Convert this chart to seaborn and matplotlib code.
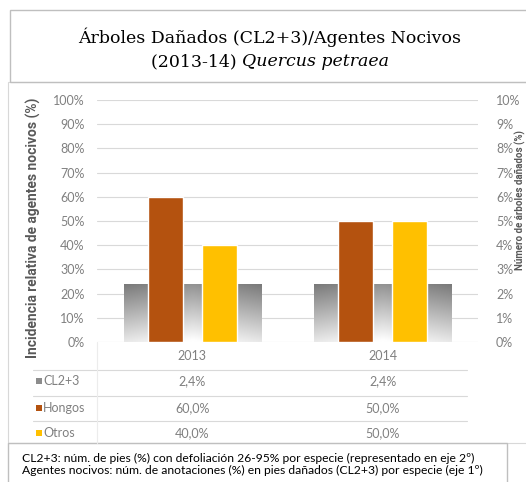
import matplotlib
matplotlib.use("Agg")
import matplotlib.pyplot as plt
import matplotlib.transforms as mtransforms
from matplotlib.patches import Rectangle
from matplotlib.lines import Line2D
import numpy as np
import pandas as pd
import seaborn as sns

# datos
YEARS = ["2013", "2014"]
CL23 = [2.4, 2.4]          # eje 2º (0-10 %)
HONGOS = [60.0, 50.0]      # eje 1º (0-100 %)
OTROS = [40.0, 50.0]
SERIES = ["Hongos", "Otros"]
ROW_LABELS = ["CL2+3", "Hongos", "Otros"]
LEFT_TICKS = list(range(0, 101, 10))
RIGHT_TICKS = list(range(0, 11, 1))

BROWN = "#b4520f"
YELLOW = "#ffc000"
GRAY = "#8c8c8c"
TICK_COLOR = "#808080"
GRID_COLOR = "#d9d9d9"

W, H = 526, 482


def fx(px):
    return px / W


def fy(py):
    return 1 - py / H


def pct(v):
    return f"{v:.1f}%".replace(".", ",")


sns.set_theme(style="white")
plt.rcParams["font.family"] = ["Lato", "DejaVu Sans"]

fig = plt.figure(figsize=(W / 100, H / 100), dpi=100)
fig.patch.set_facecolor("white")

left, right, top, bottom = 97, 478, 100, 342
ax = fig.add_axes([fx(left), fy(bottom), fx(right) - fx(left), fy(top) - fy(bottom)])
ax_sec = ax.twinx()
ax.set_zorder(ax_sec.get_zorder() + 1)
ax.patch.set_visible(False)

# barras grises CL2+3 (eje secundario) con degradado
sns.barplot(x=YEARS, y=CL23, ax=ax_sec, color=GRAY, width=0.72, saturation=1)
t = np.linspace(0, 1, 60)[:, None]
s = np.abs(np.linspace(-1, 1, 60))[None, :]
shade = np.clip(0.52 + 0.44 * t - 0.10 * s + 0.05, 0, 1)
grad = np.dstack([shade, shade, shade])
for p in list(ax_sec.patches):
    x0, w, h = p.get_x(), p.get_width(), p.get_height()
    p.set_facecolor("none")
    p.set_edgecolor("none")
    im = ax_sec.imshow(grad, extent=[x0, x0 + w, 0, h], aspect="auto",
                       origin="upper", zorder=2, interpolation="bilinear")
    im.set_clip_path(p)

ax_sec.set_ylim(0, 10)
ax_sec.set_xlim(-0.5, 1.5)
ax_sec.set_yticks(RIGHT_TICKS)
ax_sec.set_yticklabels([f"{v}%" for v in RIGHT_TICKS])
ax_sec.grid(axis="y", color=GRID_COLOR, linewidth=0.8)
ax_sec.set_axisbelow(True)
ax_sec.tick_params(axis="y", length=0, pad=13, labelsize=9, labelcolor=TICK_COLOR)
ax_sec.set_ylabel("")

# barras Hongos / Otros (eje principal)
df = pd.DataFrame({
    "year": YEARS * 2,
    "serie": [SERIES[0]] * 2 + [SERIES[1]] * 2,
    "valor": HONGOS + OTROS,
})
sns.barplot(data=df, x="year", y="valor", hue="serie", palette=[BROWN, YELLOW],
            width=0.567, gap=0.35, saturation=1, ax=ax, legend=False)
ax.set_ylim(0, 100)
ax.set_xlim(-0.5, 1.5)
ax.set_yticks(LEFT_TICKS)
ax.set_yticklabels([f"{v}%" for v in LEFT_TICKS])
ax.tick_params(axis="y", length=0, pad=9, labelsize=9, labelcolor=TICK_COLOR)
ax.tick_params(axis="x", length=0, pad=6, labelsize=9, labelcolor=TICK_COLOR)
ax.set_xlabel("")
ax.set_ylabel("")
for a in (ax, ax_sec):
    for sp in a.spines.values():
        sp.set_visible(False)

# titulos de ejes
fig.text(fx(33), fy(228), "Incidencia relativa de agentes nocivos (%)", rotation=90,
         ha="center", va="center", fontsize=9.9, fontweight="bold", color="#595959",
         family=["Roboto", "DejaVu Sans"])
fig.text(fx(520.5), fy(200), "Número de árboles dañados (%)", rotation=90,
         ha="center", va="center", fontsize=7, fontweight="bold", color="#595959",
         family=["Roboto", "DejaVu Sans"])

# tabla de datos
tr = mtransforms.blended_transform_factory(ax.transData, fig.transFigure)
row_y = [381, 408, 433]
for yy in [370, 396, 421]:
    fig.add_artist(Line2D([fx(33), fx(467)], [fy(yy), fy(yy)], color=GRID_COLOR, lw=0.8))
fig.add_artist(Line2D([fx(97), fx(97)], [fy(342), fy(443)], color="#ececec", lw=0.8))
table_vals = [CL23, HONGOS, OTROS]
for label, vals, yy, col in zip(ROW_LABELS, table_vals, row_y, [GRAY, BROWN, YELLOW]):
    fig.add_artist(Rectangle((fx(36), fy(yy + 3)), fx(6), 6 / H, color=col, lw=0))
    fig.text(fx(43), fy(yy), label, ha="left", va="center", fontsize=9, color=TICK_COLOR)
    for i, v in enumerate(vals):
        fig.text(i, fy(yy), pct(v), transform=tr, ha="center", va="center",
                 fontsize=9, color=TICK_COLOR)

# marcos
fig.add_artist(Rectangle((fx(8), fy(443)), 1.2, (443 - 82) / H, fill=False,
                         edgecolor="#d8d8d8", lw=0.8))
fig.add_artist(Rectangle((fx(10), fy(82)), 1.2, (82 - 10) / H, fill=False,
                         edgecolor="#bfbfbf", lw=1.0))
fig.add_artist(Rectangle((fx(8), fy(500)), fx(507) - fx(8), (500 - 443) / H, fill=False,
                         edgecolor="#bfbfbf", lw=1.0))

# titulo (segunda linea con parte en cursiva)
title_kw = dict(fontsize=12.5, color="black", family=["DejaVu Serif"])
fig.text(fx(270), fy(37), "Árboles Dañados (CL2+3)/Agentes Nocivos", ha="center",
         va="center", **title_kw)
renderer = fig.canvas.get_renderer()
t_a = fig.text(0, fy(62), "(2013-14) ", ha="left", va="center", **title_kw)
t_b = fig.text(0, fy(62), "Quercus petraea", ha="left", va="center", style="italic", **title_kw)
wa = t_a.get_window_extent(renderer).width
wb = t_b.get_window_extent(renderer).width
x_start = 270 - (wa + wb) / 2
t_a.set_x(fx(x_start))
t_b.set_x(fx(x_start + wa))

# nota al pie
fig.text(fx(22), fy(458), "CL2+3: núm. de pies (%) con defoliación 26-95% por especie (representado en eje 2º)",
         ha="left", va="center", fontsize=8.75, color="black")
fig.text(fx(22), fy(470), "Agentes nocivos: núm. de anotaciones (%) en pies dañados (CL2+3) por especie (eje 1º)",
         ha="left", va="center", fontsize=8.75, color="black")

fig.savefig("out.png", dpi=100)
